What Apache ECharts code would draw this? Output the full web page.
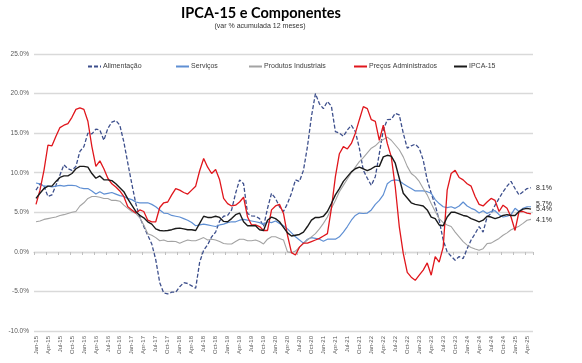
<!DOCTYPE html>
<html><head><meta charset="utf-8">
<script src="https://cdn.jsdelivr.net/npm/echarts@6/dist/echarts.min.js"></script>
<style>html,body{margin:0;padding:0;background:#fff}#c{width:582px;height:363px}</style>
</head><body><div id="c"></div>
<script>
const monthNames = ['Jan','Feb','Mar','Apr','May','Jun','Jul','Aug','Sep','Oct','Nov','Dec'];
const categories = [];
for (let y = 15; y <= 25; y++) {
  for (let m = 0; m < 12; m++) {
    if (y === 25 && m > 4) break;
    categories.push(monthNames[m] + '-' + y);
  }
}
const yTicks = [-10, -5, 0, 5, 10, 15, 20, 25];

const alimentacao = [
  7.8, 8.6, 8.3, 7.0, 7.2, 8.4, 9.7, 11.0, 10.5, 10.3, 10.8, 12.7, 13.3, 15.0, 14.9, 15.5, 15.4, 14.1, 15.6, 16.4, 16.6, 16.0, 13.9, 11.2, 8.6, 6.1, 4.4, 3.2, 2.1, 1.0, -1.0, -3.9,
  -5.2, -5.3, -5.1, -5.1, -4.4, -3.9, -4.0, -4.3, -4.6, -1.3, 0.2, 0.9, 1.9, 2.5, 3.9, 4.5, 4.6, 5.3, 7.4, 9.1, 8.6, 4.85, 4.55, 4.5, 4.2, 3.2, 5.5, 7.4, 6.75, 5.7, 5.1,
  6.1, 7.4, 9.1, 8.9, 10.3, 13.3, 17.1, 20.0, 18.7, 18.1, 19.0, 18.4, 15.2, 15.0, 14.6, 15.4, 16.0, 15.2, 13.1, 10.3, 9.3, 8.4, 9.5, 12.4, 15.4, 16.7, 16.75, 17.5, 17.3, 15.0, 13.1,
  13.4, 13.6, 13.1, 11.6, 9.1, 7.4, 5.9, 4.0, 1.5, 0.0, -0.55, -1.05, -0.6, -0.85, 0.4, 1.5, 2.3, 3.2, 2.5, 4.4, 4.85, 5.9, 6.75, 7.6, 8.3, 8.9, 8.0, 7.2, 7.6, 8.0, 8.1
];
const servicos = [
  8.7, 8.6, 8.3, 8.3, 8.2, 8.3, 8.4, 8.3, 8.4, 8.4, 8.35, 8.1, 8.0, 8.0, 7.7, 7.3, 7.6, 7.3, 7.4, 7.5, 7.3, 7.1, 7.0, 6.75, 6.6, 6.3, 6.2, 6.2, 6.2, 6.0, 5.7, 5.3,
  4.9, 4.85, 4.6, 4.5, 4.4, 4.2, 4.0, 3.7, 3.3, 3.4, 3.5, 3.4, 3.3, 3.2, 3.4, 3.5, 3.7, 3.8, 3.8, 4.0, 4.1, 4.0, 3.9, 3.8, 3.7, 3.5, 3.8, 3.7, 3.9, 3.6, 3.3,
  2.9, 2.4, 1.9, 1.5, 1.1, 1.6, 1.8, 1.7, 1.6, 1.35, 1.6, 1.6, 1.6, 1.9, 2.5, 3.2, 4.0, 4.6, 4.9, 4.85, 4.9, 5.3, 6.0, 6.5, 7.2, 8.6, 9.0, 9.1, 9.0, 8.6, 8.3,
  8.0, 7.7, 7.7, 7.7, 7.6, 7.4, 6.6, 6.1, 5.7, 5.6, 5.7, 5.5, 5.8, 6.3, 5.8, 5.5, 5.3, 4.9, 5.2, 4.85, 5.1, 5.2, 4.7, 4.4, 4.5, 4.7, 5.5, 5.1, 5.5, 5.7, 5.7
];
const industriais = [
  3.8, 3.9, 4.1, 4.2, 4.3, 4.4, 4.6, 4.7, 4.85, 5.0, 5.1, 5.8, 6.2, 6.75, 7.0, 7.0, 6.9, 6.75, 6.75, 6.5, 6.5, 6.4, 5.9, 5.5, 5.1, 4.85, 4.3, 3.4, 2.3, 2.1, 1.8, 1.4,
  1.5, 1.3, 1.35, 1.3, 1.1, 1.3, 1.5, 1.4, 1.4, 1.6, 1.8, 1.5, 1.6, 1.5, 1.3, 1.05, 1.0, 1.0, 1.3, 1.6, 1.6, 1.4, 1.4, 1.5, 1.3, 1.0, 1.6, 1.9, 1.9, 1.7, 1.5,
  0.0, -0.1, 0.1, 0.6, 1.05, 1.5, 1.9, 2.3, 2.9, 3.6, 4.4, 5.5, 6.5, 7.6, 8.4, 9.2, 10.0, 10.7, 11.4, 11.9, 12.5, 13.1, 13.4, 13.9, 14.2, 14.5, 14.1, 13.5, 12.9, 12.0, 10.8,
  9.9, 9.5, 8.9, 8.0, 7.2, 6.1, 5.1, 4.2, 3.7, 3.4, 3.2, 2.5, 1.9, 1.3, 0.85, 0.55, 0.35, 0.2, 0.4, 1.05, 1.1, 1.4, 1.7, 2.1, 2.4, 2.8, 3.0, 3.25, 3.6, 4.0, 4.1
];
const administrados = [
  6.0, 7.8, 10.3, 13.5, 13.4, 14.6, 15.7, 16.0, 16.2, 17.0, 18.0, 18.2, 18.0, 16.5, 13.3, 10.8, 11.5, 10.5, 9.3, 8.6, 8.2, 7.7, 7.0, 5.7, 5.3, 4.9, 5.3, 5.1, 4.0, 3.8, 3.8, 5.6,
  6.2, 6.3, 7.2, 8.0, 7.8, 7.5, 7.3, 7.8, 8.3, 10.25, 11.8, 10.7, 9.9, 10.4, 9.1, 6.75, 6.1, 5.8, 5.9, 6.3, 6.9, 4.4, 3.4, 3.4, 3.2, 2.7, 2.7, 5.3, 5.8, 6.0, 4.85,
  2.1, -0.1, -0.4, 0.6, 1.1, 1.1, 1.3, 1.5, 1.7, 2.0, 2.3, 5.5, 9.5, 12.4, 13.3, 13.0, 13.7, 15.0, 16.7, 18.35, 18.1, 16.7, 16.5, 14.1, 16.0, 13.7, 12.0, 8.2, 3.2, -0.2, -2.6,
  -3.2, -3.6, -2.95, -2.3, -1.4, -2.95, -0.6, -1.3, 0.6, 7.8, 9.9, 10.3, 9.4, 9.1, 8.6, 8.3, 7.0, 6.0, 5.8, 6.3, 6.75, 6.5, 5.1, 5.9, 5.5, 4.4, 2.7, 5.1, 5.1, 4.9, 4.8
];
const ipca15 = [
  6.75, 7.4, 8.0, 8.3, 8.3, 8.9, 9.4, 9.6, 9.6, 9.9, 10.5, 10.8, 10.8, 10.7, 9.9, 9.3, 9.6, 9.1, 9.1, 9.0, 8.6, 8.1, 7.6, 6.7, 5.9, 5.1, 4.6, 4.3, 3.8, 3.5, 2.9, 2.7,
  2.65, 2.7, 2.8, 2.95, 3.0, 2.9, 2.8, 2.8, 2.7, 3.6, 4.5, 4.35, 4.35, 4.5, 4.35, 3.85, 3.8, 4.2, 4.7, 4.9, 3.8, 3.3, 3.3, 3.3, 2.8, 2.7, 4.0, 4.4, 4.2, 3.8, 3.1,
  2.4, 2.0, 2.1, 2.2, 2.5, 3.2, 4.0, 4.35, 4.35, 4.5, 5.1, 6.1, 7.2, 8.0, 8.9, 9.5, 10.1, 10.5, 10.7, 10.5, 10.25, 10.5, 10.8, 10.8, 12.0, 12.2, 12.1, 11.2, 9.3, 7.4, 6.8,
  6.2, 6.0, 5.9, 5.8, 5.3, 4.4, 4.2, 3.4, 3.3, 4.4, 5.0, 5.0, 4.8, 4.6, 4.5, 4.2, 4.0, 3.8, 4.0, 4.5, 4.4, 4.2, 4.35, 4.6, 4.7, 4.6, 4.6, 5.1, 5.4, 5.5, 5.4
];

const FONT = '"Liberation Sans", Arial, sans-serif';
const chart = echarts.init(document.getElementById('c'), null, {renderer: 'canvas'});

function endLbl(dy) {
  return {
    show: true, distance: 5, offset: [0, dy],
    formatter: p => Number(p.value).toFixed(1) + '%',
    fontSize: 7, fontFamily: FONT, color: '#262626'
  };
}
function lg(name, left) {
  return {
    data: [name], left: left, top: 58, padding: 5,
    itemWidth: 13, itemHeight: 6, itemGap: 0,
    itemStyle: {opacity: 0},
    textStyle: {fontSize: 7, fontFamily: FONT, color: '#404040', padding: [0, 0, 0, -3]}
  };
}

chart.setOption({
  animation: false,
  backgroundColor: '#ffffff',
  graphic: [
    {type: 'text', x: 261, y: 13, style: {text: 'IPCA-15 e Componentes', font: 'bold 14.5px Lato, "Noto Sans", sans-serif', fill: '#000', textAlign: 'center', textVerticalAlign: 'middle', align: 'center', verticalAlign: 'middle'}},
    {type: 'text', x: 260, y: 26, style: {text: '(var % acumulada 12 meses)', font: '7px ' + FONT, fill: '#333', textAlign: 'center', textVerticalAlign: 'middle', align: 'center', verticalAlign: 'middle'}}
  ],
  legend: [
    lg('Alimentação', 82),
    lg('Serviços', 170),
    lg('Produtos Industriais', 243),
    lg('Preços Administrados', 348),
    lg('IPCA-15', 448)
  ],
  grid: {left: 34, right: 49, top: 54, height: 277, containLabel: false},
  xAxis: [
    {
      type: 'category', data: categories, boundaryGap: true, position: 'bottom',
      axisLine: {show: false}, axisTick: {show: false},
      axisLabel: {interval: 2, rotate: 90, fontSize: 6, fontFamily: FONT, color: '#595959', margin: 5}
    },
    {
      type: 'category', data: categories, boundaryGap: true, position: 'bottom', offset: -79,
      axisLine: {show: true, lineStyle: {color: '#d9d9d9', width: 1.3}},
      axisTick: {show: true, interval: 2, length: 3, lineStyle: {color: '#bfbfbf'}},
      axisLabel: {show: false}
    }
  ],
  yAxis: {
    type: 'value', min: yTicks[0], max: yTicks[yTicks.length - 1], interval: 5,
    axisLine: {show: false}, axisTick: {show: false},
    axisLabel: {formatter: v => v.toFixed(1) + '%', fontSize: 6.5, fontFamily: FONT, color: '#595959', margin: 5},
    splitLine: {lineStyle: {color: '#d9d9d9', width: 1.3}}
  },
  series: [
    {name: 'Alimentação', type: 'line', data: alimentacao, symbol: 'none', color: '#3d4f8c',
      lineStyle: {width: 1.3, type: [4, 2], color: '#3d4f8c'}, endLabel: endLbl(0)},
    {name: 'Serviços', type: 'line', data: servicos, symbol: 'none', color: '#5f8fd3',
      lineStyle: {width: 1.2, color: '#5f8fd3'}, endLabel: endLbl(-3)},
    {name: 'Produtos Industriais', type: 'line', data: industriais, symbol: 'none', color: '#a3a3a3',
      lineStyle: {width: 1.1, color: '#a3a3a3'}, endLabel: endLbl(1)},
    {name: 'Preços Administrados', type: 'line', data: administrados, symbol: 'none', color: '#e0161c',
      lineStyle: {width: 1.3, color: '#e0161c'}},
    {name: 'IPCA-15', type: 'line', data: ipca15, symbol: 'none', color: '#1a1a1a',
      lineStyle: {width: 1.4, color: '#1a1a1a'}, endLabel: endLbl(0)}
  ]
});
</script>
</body></html>
